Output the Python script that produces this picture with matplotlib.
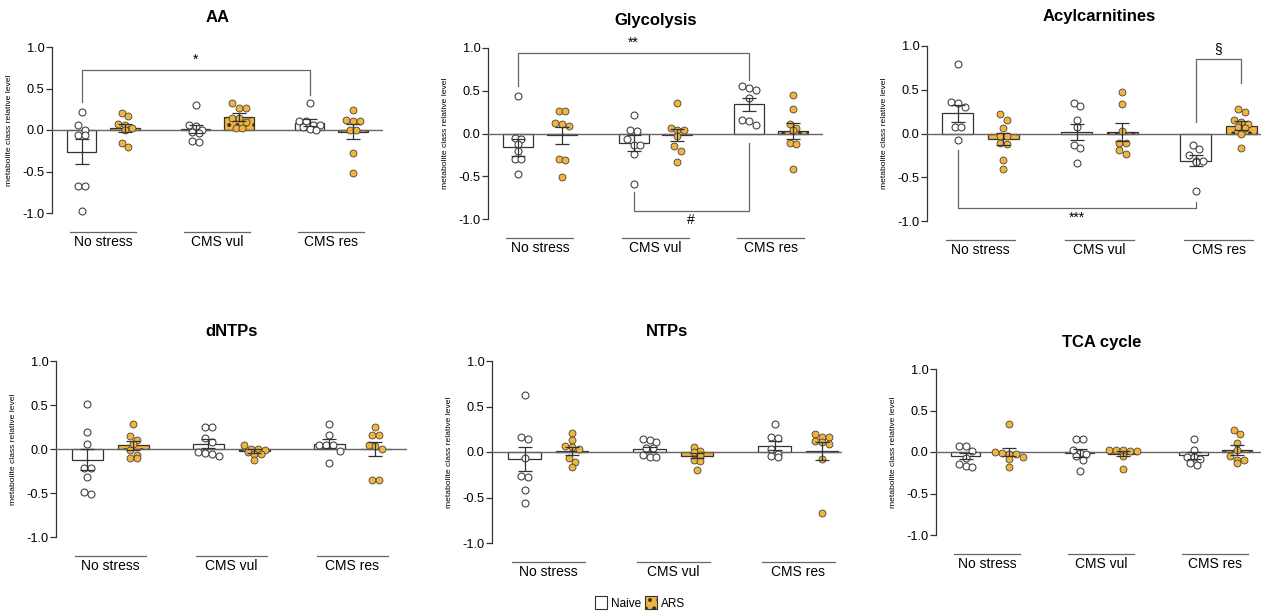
import matplotlib.pyplot as plt
from matplotlib.patches import Patch
import numpy as np

plt.rcParams['font.family'] = ['Liberation Sans', 'DejaVu Sans']
plt.rcParams['axes.unicode_minus'] = False
plt.rcParams['hatch.linewidth'] = 1.6

# groups on the x axis
groups = ['No stress', 'CMS vul', 'CMS res']

# AA
aa_naive = [[0.22, 0.06, 0.0, -0.06, -0.06, -0.67, -0.67, -0.98],
            [0.30, 0.06, 0.05, 0.0, -0.02, -0.04, -0.13, -0.15],
            [0.32, 0.11, 0.11, 0.06, 0.06, 0.04, 0.01, 0.0]]
aa_ars = [[0.20, 0.17, 0.07, 0.06, 0.02, 0.0, -0.16, -0.21],
          [0.32, 0.27, 0.26, 0.15, 0.15, 0.10, 0.03, 0.03],
          [0.24, 0.12, 0.11, 0.11, 0.0, 0.0, -0.28, -0.52]]
aa_naive_mean = [-0.26, 0.01, 0.09]
aa_naive_sem = [0.15, 0.05, 0.04]
aa_ars_mean = [0.02, 0.16, -0.02]
aa_ars_sem = [0.05, 0.05, 0.09]

# Glycolysis
gly_naive = [[0.44, -0.05, -0.07, -0.12, -0.20, -0.30, -0.30, -0.47],
             [0.22, 0.04, 0.03, -0.07, -0.13, -0.13, -0.24, -0.59],
             [0.55, 0.53, 0.51, 0.41, 0.16, 0.15, 0.10]]
gly_ars = [[0.26, 0.26, 0.12, 0.11, 0.09, -0.30, -0.31, -0.51],
           [0.36, 0.07, 0.04, 0.04, -0.03, -0.15, -0.20, -0.33],
           [0.45, 0.29, 0.11, 0.06, 0.04, -0.11, -0.12, -0.41]]
gly_naive_mean = [-0.16, -0.11, 0.34]
gly_naive_sem = [0.10, 0.09, 0.08]
gly_ars_mean = [-0.02, -0.02, 0.03]
gly_ars_sem = [0.10, 0.07, 0.09]

# Acylcarnitines
acy_naive = [[0.80, 0.36, 0.35, 0.30, 0.08, 0.08, -0.07],
             [0.35, 0.32, 0.16, 0.07, -0.13, -0.16, -0.34],
             [-0.13, -0.18, -0.25, -0.31, -0.31, -0.32, -0.66]]
acy_ars = [[0.22, 0.16, 0.06, -0.03, -0.03, -0.11, -0.12, -0.30, -0.40],
           [0.47, 0.34, 0.03, -0.11, -0.11, -0.19, -0.23],
           [0.28, 0.25, 0.15, 0.13, 0.11, 0.08, 0.06, 0.0, -0.17]]
acy_naive_mean = [0.23, 0.02, -0.31]
acy_naive_sem = [0.10, 0.09, 0.06]
acy_ars_mean = [-0.06, 0.02, 0.09]
acy_ars_sem = [0.07, 0.10, 0.05]

# dNTPs
dntp_naive = [[0.51, 0.19, 0.06, -0.22, -0.22, -0.32, -0.49, -0.51],
              [0.25, 0.25, 0.13, 0.08, -0.03, -0.05, -0.06, -0.08],
              [0.28, 0.16, 0.04, 0.04, 0.04, -0.02, -0.16]]
dntp_ars = [[0.28, 0.15, 0.10, 0.06, -0.01, -0.07, -0.10, -0.10],
            [0.05, 0.0, 0.0, -0.01, -0.03, -0.06, -0.06, -0.12],
            [0.25, 0.16, 0.16, 0.04, 0.03, 0.0, -0.35, -0.35]]
dntp_naive_mean = [-0.12, 0.06, 0.06]
dntp_naive_sem = [0.12, 0.05, 0.05]
dntp_ars_mean = [0.04, -0.02, 0.0]
dntp_ars_sem = [0.05, 0.02, 0.08]

# NTPs
ntp_naive = [[0.63, 0.16, 0.14, -0.07, -0.26, -0.28, -0.42, -0.56],
             [0.14, 0.13, 0.11, 0.04, 0.04, -0.03, -0.05, -0.06],
             [0.31, 0.16, 0.15, 0.03, -0.02, -0.04, -0.06]]
ntp_ars = [[0.21, 0.13, 0.07, 0.05, 0.03, -0.07, -0.11, -0.17],
           [0.06, 0.01, 0.0, -0.03, -0.09, -0.10, -0.20],
           [0.20, 0.17, 0.16, 0.12, 0.11, 0.09, -0.08, -0.67]]
ntp_naive_mean = [-0.08, 0.03, 0.07]
ntp_naive_sem = [0.13, 0.03, 0.05]
ntp_ars_mean = [0.01, -0.04, 0.01]
ntp_ars_sem = [0.04, 0.03, 0.10]

# TCA cycle
tca_naive = [[0.07, 0.07, 0.01, -0.07, -0.15, -0.17, -0.18],
             [0.16, 0.16, 0.03, -0.01, -0.03, -0.05, -0.10, -0.23],
             [0.16, 0.03, -0.06, -0.06, -0.09, -0.13, -0.16]]
tca_ars = [[0.34, 0.0, -0.01, -0.02, -0.03, -0.06, -0.09, -0.18],
           [0.03, 0.02, 0.02, 0.01, 0.01, -0.05, -0.21],
           [0.26, 0.22, 0.11, 0.03, -0.05, -0.10, -0.10, -0.13]]
tca_naive_mean = [-0.05, -0.01, -0.04]
tca_naive_sem = [0.04, 0.05, 0.04]
tca_ars_mean = [0.0, -0.02, 0.02]
tca_ars_sem = [0.05, 0.03, 0.06]

W, H = 1261, 611
ORANGE = '#F2B43A'
EDGE = '#333333'
GREY = '#666666'
OFF = 0.19    # half distance between the two bars of a group
BW = 0.26     # bar width
DIAM = 6.8    # marker spacing in px
XMIN = -0.45

# title, data, axes left/top/bottom px, px per group, xmax, title y px
panels = [
    ('AA', (aa_naive, aa_ars, aa_naive_mean, aa_naive_sem, aa_ars_mean, aa_ars_sem),
     52, 47, 213, 114, 2.45, 17),
    ('Glycolysis', (gly_naive, gly_ars, gly_naive_mean, gly_naive_sem, gly_ars_mean, gly_ars_sem),
     488, 48, 219, 115.5, 2.45, 20),
    ('Acylcarnitines', (acy_naive, acy_ars, acy_naive_mean, acy_naive_sem, acy_ars_mean, acy_ars_sem),
     927, 46, 221, 119, 2.45, 17),
    ('dNTPs', (dntp_naive, dntp_ars, dntp_naive_mean, dntp_naive_sem, dntp_ars_mean, dntp_ars_sem),
     56, 361, 537, 121, 2.45, 332),
    ('NTPs', (ntp_naive, ntp_ars, ntp_naive_mean, ntp_naive_sem, ntp_ars_mean, ntp_ars_sem),
     492, 361, 543, 125, 2.35, 332),
    ('TCA cycle', (tca_naive, tca_ars, tca_naive_mean, tca_naive_sem, tca_ars_mean, tca_ars_sem),
     936, 369, 535, 114, 2.45, 342),
]


def swarm(vals, ppu_x, ppu_y):
    # GraphPad-like spread: points close in y share a row, centred on the bar
    vals = np.asarray(vals)
    order = np.argsort(-vals, kind='stable')
    offsets = np.zeros(len(vals))
    rows, cur = [], [order[0]]
    for i in order[1:]:
        if (vals[cur[0]] - vals[i]) * ppu_y < DIAM * 0.8:
            cur.append(i)
        else:
            rows.append(cur)
            cur = [i]
    rows.append(cur)
    for row in rows:
        n = len(row)
        for k, i in enumerate(row):
            offsets[i] = (k - (n - 1) / 2) * DIAM / ppu_x
    return offsets


def bracket(ax, x1, x2, y, y1, y2, label, ty, va):
    ax.plot([x1, x1, x2, x2], [y1, y, y, y2], color=GREY, lw=0.9, clip_on=False)
    ax.text((x1 + x2) / 2, ty, label, ha='center', va=va, fontsize=10, clip_on=False)


fig = plt.figure(figsize=(W / 100, H / 100), dpi=100)
axes = {}

for title, data, left, top, bottom, sp, xmax, ty in panels:
    naive, ars, n_mean, n_sem, a_mean, a_sem = data
    wpx = (xmax - XMIN) * sp
    hpx = bottom - top
    ax = fig.add_axes([left / W, 1 - bottom / H, wpx / W, hpx / H])
    axes[title] = ax
    ppu_y = hpx / 2.0

    x = np.arange(len(groups))
    ax.bar(x - OFF, n_mean, BW, color='white', edgecolor=EDGE, lw=0.9, zorder=2)
    ax.bar(x + OFF, a_mean, BW, color=ORANGE, edgecolor=EDGE, lw=0.9, hatch='..', zorder=2)

    for i in range(len(groups)):
        dx = swarm(naive[i], sp, ppu_y)
        ax.plot(x[i] - OFF + dx, naive[i], 'o', ms=5.0, mfc='white', mec='#444444',
                mew=0.8, zorder=4, clip_on=False)
        dx = swarm(ars[i], sp, ppu_y)
        ax.plot(x[i] + OFF + dx, ars[i], 'o', ms=5.0, mfc=ORANGE, mec='#444444',
                mew=0.6, zorder=4, clip_on=False)

    ax.errorbar(x - OFF, n_mean, yerr=n_sem, fmt='none', ecolor=EDGE, elinewidth=0.9,
                capsize=5, capthick=0.9, zorder=5)
    ax.errorbar(x + OFF, a_mean, yerr=a_sem, fmt='none', ecolor=EDGE, elinewidth=0.9,
                capsize=5, capthick=0.9, zorder=5)

    ax.axhline(0, color=GREY, lw=1.0, zorder=3)
    ax.set_xlim(XMIN, xmax)
    ax.set_ylim(-1.0, 1.0)
    ax.set_yticks([-1.0, -0.5, 0.0, 0.5, 1.0])
    ax.set_yticklabels(['-1.0', '-0.5', '0.0', '0.5', '1.0'], fontsize=9.2)
    ax.tick_params(axis='y', length=4, width=0.9, color=EDGE, pad=1.5)
    ax.set_xticks([])
    for s in ['top', 'right', 'bottom']:
        ax.spines[s].set_visible(False)
    ax.spines['left'].set_color(EDGE)
    ax.spines['left'].set_linewidth(0.9)
    ax.patch.set_alpha(0)

    ax.set_ylabel('metabolite class relative level', fontsize=6.1)
    ax.yaxis.set_label_coords(-39 / wpx, 0.5)

    # group labels with a line above them
    trans = ax.get_xaxis_transform()
    for i, g in enumerate(groups):
        ax.plot([x[i] - 0.29, x[i] + 0.29], [-19 / hpx] * 2, color=GREY, lw=0.9,
                transform=trans, clip_on=False)
        ax.text(x[i], -29 / hpx, g, transform=trans, ha='center', va='center', fontsize=10)

    fig.text((left + wpx / 2) / W, 1 - ty / H, title, ha='center', va='center',
             fontsize=12, fontweight='bold')

# significance marks
ax = axes['AA']
bracket(ax, 0 - OFF, 2 - OFF, 0.72, 0.34, 0.42, '*', 0.76, 'bottom')
ax = axes['Glycolysis']
bracket(ax, 0 - OFF, 2 - OFF, 0.94, 0.55, 0.62, '**', 0.98, 'bottom')
bracket(ax, 1 - OFF, 2 - OFF, -0.91, -0.68, -0.11, '#', -0.93, 'top')
ax = axes['Acylcarnitines']
bracket(ax, 2 - OFF, 2 + OFF, 0.85, 0.13, 0.58, '§', 0.89, 'bottom')
bracket(ax, 0 - OFF, 2 - OFF, -0.855, -0.19, -0.78, '***', -0.88, 'top')

handles = [Patch(facecolor='white', edgecolor=EDGE, lw=0.8),
           Patch(facecolor=ORANGE, edgecolor=EDGE, lw=0.8, hatch='..')]
fig.legend(handles, ['Naive', 'ARS'], loc='center', bbox_to_anchor=(640 / W, 1 - 603 / H),
           ncol=2, frameon=False, fontsize=8.5, handlelength=1.0, handleheight=1.2,
           handletextpad=0.3, columnspacing=0.4)

plt.savefig('out.png', dpi=100)
